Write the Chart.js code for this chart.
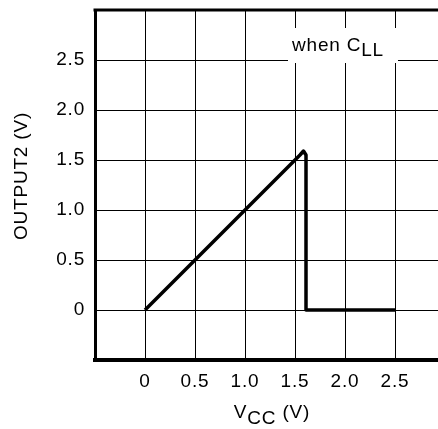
<!DOCTYPE html>
<html>
<head>
<meta charset="utf-8">
<script src="https://cdn.jsdelivr.net/npm/chart.js@4"></script>
<style>
  html, body { margin: 0; padding: 0; background: #fff; overflow: hidden; }
  #wrap { width: 438px; height: 429px; }
</style>
</head>
<body>
<div id="wrap"><canvas id="outChart" width="438" height="429"></canvas></div>
<script>
// curve (V)
var vcc = [0, 1.55, 1.585, 1.61, 1.61, 2.5];
var output2 = [0, 1.55, 1.59, 1.55, 0, 0];

var xTickValues = [-0.5, 0, 0.5, 1.0, 1.5, 2.0, 2.5];
var xTickLabels = ['', '0', '0.5', '1.0', '1.5', '2.0', '2.5'];
var yTickValues = [-0.5, 0, 0.5, 1.0, 1.5, 2.0, 2.5, 3.0];
var yTickLabels = ['', '0', '0.5', '1.0', '1.5', '2.0', '2.5', ''];

var FONT = "'Liberation Sans', Arial, sans-serif";
var SIZE = 19;
var SPACING = '0.8px';

var points = [];
for (var i = 0; i < vcc.length; i++) {
    points.push({ x: vcc[i], y: output2[i] });
}

// draws text pieces [text, dy] one after another
function drawParts(c, parts, x, y) {
    parts.forEach(function (p) {
        c.fillText(p[0], x, y + p[1]);
        x += c.measureText(p[0]).width;
    });
}
function partsWidth(c, parts) {
    var t = 0;
    parts.forEach(function (p) { t += c.measureText(p[0]).width; });
    return t;
}

var extras = {
    id: 'extras',
    beforeInit: function (chart) { chart.ctx.letterSpacing = SPACING; },
    beforeDraw: function (chart) { chart.ctx.letterSpacing = SPACING; },
    beforeDatasetsDraw: function (chart) {
        // white label box over the grid
        var c = chart.ctx, xs = chart.scales.x, ys = chart.scales.y;
        var x0 = xs.getPixelForValue(1.43), x1 = xs.getPixelForValue(2.53);
        var y0 = ys.getPixelForValue(2.82), y1 = ys.getPixelForValue(2.47);
        c.save();
        c.fillStyle = '#fff';
        c.fillRect(x0, y0, x1 - x0, y1 - y0);
        c.fillStyle = '#000';
        c.font = SIZE + 'px ' + FONT;
        drawParts(c, [['when C', 0], ['LL', 5]], x0 + 4, y0 + 23);
        c.restore();
    },
    afterDraw: function (chart) {
        var c = chart.ctx, a = chart.chartArea, xs = chart.scales.x;
        c.save();
        // top frame line
        c.strokeStyle = '#000';
        c.lineWidth = 3;
        c.beginPath();
        c.moveTo(a.left - 1.5, a.top);
        c.lineTo(a.right, a.top);
        c.stroke();

        c.fillStyle = '#000';
        c.font = SIZE + 'px ' + FONT;
        c.textBaseline = 'alphabetic';
        var xt = [['V', 0], ['CC', 6], [' (V)', 0]];
        drawParts(c, xt, xs.getPixelForValue(1.27) - partsWidth(c, xt) / 2, 418);

        var yt = [['OUTPUT2 (V)', 0]];
        c.translate(27, 176);
        c.rotate(-Math.PI / 2);
        drawParts(c, yt, -partsWidth(c, yt) / 2, 0);
        c.restore();
    }
};

new Chart(document.getElementById('outChart'), {
    type: 'line',
    data: {
        datasets: [{
            data: points,
            borderColor: '#000',
            borderWidth: 3.5,
            pointRadius: 0,
            tension: 0,
            fill: false,
            borderJoinStyle: 'round'
        }]
    },
    options: {
        responsive: false,
        animation: false,
        layout: { padding: { top: 10, right: 0, left: 0, bottom: 0 } },
        plugins: { legend: { display: false }, tooltip: { enabled: false } },
        scales: {
            x: {
                type: 'linear',
                min: -0.5,
                max: 2.93,
                afterFit: function (s) {
                    s.height = 69;
                    s.paddingLeft = 0;
                    s.paddingRight = 0;
                },
                afterBuildTicks: function (s) {
                    s.ticks = xTickValues.map(function (v) { return { value: v }; });
                },
                grid: { color: '#000', lineWidth: 1, drawTicks: false },
                border: { color: '#000', width: 4 },
                ticks: {
                    padding: 10,
                    color: '#000',
                    font: { family: FONT, size: SIZE },
                    maxRotation: 0,
                    callback: function (v, i) { return xTickLabels[i]; }
                }
            },
            y: {
                type: 'linear',
                min: -0.5,
                max: 3.0,
                afterFit: function (s) {
                    s.width = 95;
                    s.paddingTop = 0;
                    s.paddingBottom = 0;
                },
                afterBuildTicks: function (s) {
                    s.ticks = yTickValues.map(function (v) { return { value: v }; });
                },
                grid: { color: '#000', lineWidth: 1, drawTicks: false },
                border: { color: '#000', width: 3 },
                ticks: {
                    padding: 10,
                    color: '#000',
                    font: { family: FONT, size: SIZE },
                    callback: function (v, i) { return yTickLabels[i]; }
                }
            }
        }
    },
    plugins: [extras]
});
</script>
</body>
</html>
